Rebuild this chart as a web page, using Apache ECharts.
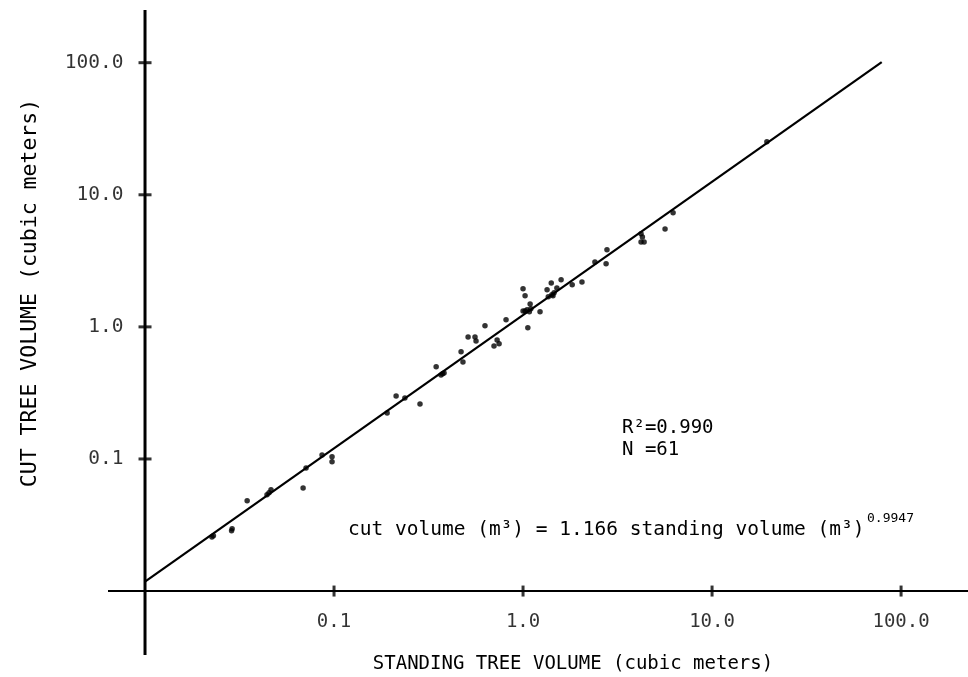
<!DOCTYPE html>
<html><head><meta charset="utf-8">
<script src="https://cdn.jsdelivr.net/npm/echarts@6/dist/echarts.min.js"></script>
<style>html,body{margin:0;padding:0;background:#fff}#c{width:968px;height:677px}</style>
</head><body><div id="c"></div>
<script>
// Standing tree volume (m3) and cut tree volume (m3)
const standingVolume = [
  0.0226, 0.0289, 0.0287, 0.0347, 0.0442, 0.0464, 0.0686, 0.0711, 0.0864, 0.0976,
  0.0976, 0.191, 0.213, 0.237, 0.285, 0.347, 0.368, 0.382, 0.470, 0.481,
  0.512, 0.557, 0.564, 0.629, 0.702, 0.729, 0.747, 0.813, 1.00, 1.025,
  1.00, 1.05, 1.08, 1.09, 1.06, 1.23, 1.34, 1.41, 1.36, 1.42,
  1.46, 1.51, 1.59, 1.82, 2.05, 2.40, 2.75, 2.78, 4.21, 4.21,
  4.37, 5.64, 6.22, 19.5, 0.0453, 0.375, 1.025, 1.10, 1.44, 4.28,
  0.0230
];
const cutVolume = [
  0.0257, 0.0296, 0.0286, 0.0482, 0.0535, 0.0584, 0.0604, 0.0856, 0.107, 0.104,
  0.0951, 0.223, 0.300, 0.290, 0.261, 0.498, 0.433, 0.448, 0.647, 0.543,
  0.840, 0.840, 0.783, 1.02, 0.718, 0.797, 0.744, 1.13, 1.94, 1.72,
  1.32, 1.35, 1.30, 1.49, 0.983, 1.30, 1.91, 2.15, 1.69, 1.75,
  1.81, 1.97, 2.27, 2.08, 2.19, 3.10, 3.00, 3.83, 5.06, 4.40,
  4.40, 5.52, 7.30, 25.2, 0.0554, 0.441, 1.32, 1.37, 1.72, 4.80,
  0.0262
];
// Regression line end points (standing, cut)
const fitStanding = [0.01, 79];
const fitCut = [0.0118, 101];
// Axis ticks
const xTickValues = [0.1, 1, 10, 100];
const xTickLabels = ['0.1', '1.0', '10.0', '100.0'];
const yTickValues = [0.1, 1, 10, 100];
const yTickLabels = ['0.1', '1.0', '10.0', '100.0'];
const axisCross = 0.01;
const X_MIN = 0.00637, X_MAX = 226, Y_MIN = 0.00328, Y_MAX = 250.6;

const FONT = "'DejaVu Sans Mono', monospace";
const chart = echarts.init(document.getElementById('c'), null, {renderer: 'canvas'});

const points = standingVolume.map((v, i) => [v, cutVolume[i]]);
const fit = fitStanding.map((v, i) => [v, fitCut[i]]);

chart.setOption({
  backgroundColor: '#ffffff',
  animation: false,
  grid: {left: 108, right: 0, top: 10, bottom: 22, outerBoundsMode: 'none', containLabel: false},
  xAxis: {type: 'log', logBase: 10, min: X_MIN, max: X_MAX, show: false},
  yAxis: {type: 'log', logBase: 10, min: Y_MIN, max: Y_MAX, show: false},
  series: [
    {type: 'line', data: [[X_MIN, axisCross], [X_MAX, axisCross]], symbol: 'none', silent: true,
     lineStyle: {color: '#000', width: 2}, z: 2},
    {type: 'line', data: [[axisCross, Y_MIN], [axisCross, Y_MAX]], symbol: 'none', silent: true,
     lineStyle: {color: '#000', width: 3}, z: 2},
    {type: 'scatter', data: xTickValues.map(v => [v, axisCross]), symbol: 'rect', symbolSize: [3, 11],
     itemStyle: {color: '#000'}, silent: true, z: 3,
     label: {show: true, position: 'bottom', distance: 16, color: '#000', fontFamily: FONT, fontSize: 19,
             formatter: p => xTickLabels[p.dataIndex]}},
    {type: 'scatter', data: yTickValues.map(v => [axisCross, v]), symbol: 'rect', symbolSize: [13, 3],
     itemStyle: {color: '#000'}, silent: true, z: 3,
     label: {show: true, position: 'left', distance: 15, color: '#000', fontFamily: FONT, fontSize: 19.5,
             formatter: p => yTickLabels[p.dataIndex]}},
    {type: 'line', data: fit, symbol: 'none', silent: true, lineStyle: {color: '#000', width: 2.2}, z: 4},
    {type: 'scatter', data: points, symbol: 'circle', symbolSize: 5.5, itemStyle: {color: '#000'}, z: 5}
  ],
  graphic: [
    {type: 'text', x: 573, y: 664, style: {text: 'STANDING TREE VOLUME (cubic meters)', font: '19px ' + FONT,
      fill: '#000', textAlign: 'center', textVerticalAlign: 'middle'}},
    {type: 'text', x: 30, y: 293, rotation: Math.PI / 2, style: {text: 'CUT TREE VOLUME (cubic meters)',
      font: '21.5px ' + FONT, fill: '#000', textAlign: 'center', textVerticalAlign: 'middle'}},
    {type: 'text', x: 622, y: 428, style: {text: 'R²=0.990', font: '19px ' + FONT, fill: '#000',
      textAlign: 'left', textVerticalAlign: 'middle'}},
    {type: 'text', x: 622, y: 450, style: {text: 'N =61', font: '19px ' + FONT, fill: '#000',
      textAlign: 'left', textVerticalAlign: 'middle'}},
    {type: 'text', x: 348, y: 530, style: {text: 'cut volume (m³) = 1.166 standing volume (m³)',
      font: '19.5px ' + FONT, fill: '#000', textAlign: 'left', textVerticalAlign: 'middle'}},
    {type: 'text', x: 867, y: 519, style: {text: '0.9947', font: '13px ' + FONT, fill: '#000',
      textAlign: 'left', textVerticalAlign: 'middle'}}
  ]
});
</script>
</body></html>
